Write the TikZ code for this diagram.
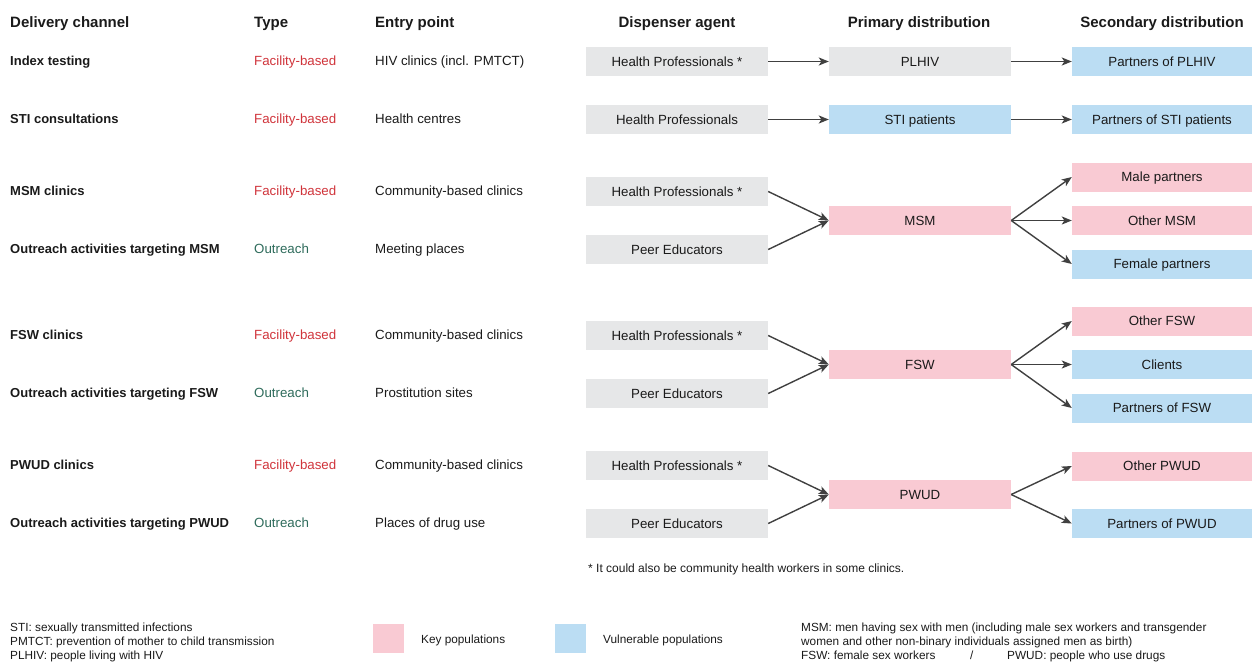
\documentclass[tikz,border=0pt]{standalone}
\usepackage{fontspec}
\setmainfont{Liberation Sans}
\usetikzlibrary{arrows.meta}
\definecolor{boxgray}{HTML}{E6E7E8}
\definecolor{keypink}{HTML}{F9CAD3}
\definecolor{vulblue}{HTML}{BBDDF3}
\definecolor{facred}{HTML}{D0343B}
\definecolor{outgreen}{HTML}{2E6B5B}
\definecolor{arrowgray}{HTML}{404040}
\definecolor{txt}{HTML}{1A1A1A}
\begin{document}
\begin{tikzpicture}[x=1pt,y=-1pt,
  every node/.style={text=txt, inner sep=0pt, text depth=0pt},
  hdr/.style={font=\fontsize{15}{18}\selectfont\bfseries, text height=10.7pt},
  hdrl/.style={hdr, anchor=west},
  chan/.style={font=\fontsize{13}{16}\selectfont\bfseries, anchor=west, text height=9.4pt},
  body/.style={font=\fontsize{13.3}{16}\selectfont, anchor=west, text height=9.5pt},
  fac/.style={body, text=facred},
  outr/.style={body, text=outgreen},
  cell/.style={font=\fontsize{13.3}{16}\selectfont, text height=9.5pt, minimum height=29pt, minimum width=182pt},
  gbox/.style={cell, fill=boxgray},
  pbox/.style={cell, fill=keypink},
  bbox/.style={cell, fill=vulblue},
  sgbox/.style={minimum width=180pt},
  note/.style={font=\fontsize{12}{14}\selectfont, anchor=west, text height=8.6pt},
  leg/.style={font=\fontsize{11.8}{14}\selectfont, anchor=west, text height=8.5pt},
  arr/.style={draw=arrowgray, line width=1.4pt, -{Stealth[length=10pt,width=8pt,inset=2.5pt]}}
]
\useasboundingbox (0,0) rectangle (1252,664);

% headers
\node[hdrl] (h1) at (10,22) {Delivery channel};
\node[hdrl] (h2) at (254,22) {Type};
\node[hdrl] (h3) at (375,22) {Entry point};
\node[hdr] (h4) at (677,22) {Dispenser agent};
\node[hdr] (h5) at (919,22) {Primary distribution};
\node[hdr] (h6) at (1162,22) {Secondary distribution};

% row labels
\node[chan] (c1) at (10,61) {Index testing};
\node[chan] (c2) at (10,119) {STI consultations};
\node[chan] (c3) at (10,191) {MSM clinics};
\node[chan] (c4) at (10,249) {Outreach activities targeting MSM};
\node[chan] (c5) at (10,335) {FSW clinics};
\node[chan] (c6) at (10,393) {Outreach activities targeting FSW};
\node[chan] (c7) at (10,465) {PWUD clinics};
\node[chan] (c8) at (10,523) {Outreach activities targeting PWUD};

% type
\node[fac] (t1) at (254,61) {Facility-based};
\node[fac] (t2) at (254,119) {Facility-based};
\node[fac] (t3) at (254,191) {Facility-based};
\node[outr] (t4) at (254,249) {Outreach};
\node[fac] (t5) at (254,335) {Facility-based};
\node[outr] (t6) at (254,393) {Outreach};
\node[fac] (t7) at (254,465) {Facility-based};
\node[outr] (t8) at (254,523) {Outreach};

% entry points
\node[body] (e1) at (375,61) {HIV clinics (incl. PMTCT)};
\node[body] (e2) at (375,119) {Health centres};
\node[body] (e3) at (375,191) {Community-based clinics};
\node[body] (e4) at (375,249) {Meeting places};
\node[body] (e5) at (375,335) {Community-based clinics};
\node[body] (e6) at (375,393) {Prostitution sites};
\node[body] (e7) at (375,465) {Community-based clinics};
\node[body] (e8) at (375,523) {Places of drug use};

% dispenser agents
\node[gbox] (d1) at (677,61.5) {Health Professionals *};
\node[gbox] (d2) at (677,119.5) {Health Professionals};
\node[gbox] (d3) at (677,191.5) {Health Professionals *};
\node[gbox] (d4) at (677,249.5) {Peer Educators};
\node[gbox] (d5) at (677,335.5) {Health Professionals *};
\node[gbox] (d6) at (677,393.5) {Peer Educators};
\node[gbox] (d7) at (677,465.5) {Health Professionals *};
\node[gbox] (d8) at (677,523.5) {Peer Educators};

% primary
\node[gbox] (p1) at (920,61.5) {PLHIV};
\node[bbox] (p2) at (920,119.5) {STI patients};
\node[pbox] (p3) at (920,220.5) {MSM};
\node[pbox] (p4) at (920,364.5) {FSW};
\node[pbox] (p5) at (920,494.5) {PWUD};

% secondary
\node[bbox,sgbox] (s1) at (1162,61.5) {Partners of PLHIV};
\node[bbox,sgbox] (s2) at (1162,119.5) {Partners of STI patients};
\node[pbox,sgbox] (s3) at (1162,177) {Male partners};
\node[pbox,sgbox] (s4) at (1162,220.5) {Other MSM};
\node[bbox,sgbox] (s5) at (1162,264) {Female partners};
\node[pbox,sgbox] (s6) at (1162,321) {Other FSW};
\node[bbox,sgbox] (s7) at (1162,364.5) {Clients};
\node[bbox,sgbox] (s8) at (1162,408) {Partners of FSW};
\node[pbox,sgbox] (s9) at (1162,466) {Other PWUD};
\node[bbox,sgbox] (s10) at (1162,523.5) {Partners of PWUD};

% connectors
\draw[arr] (d1.east) -- (p1.west);
\draw[arr] (p1.east) -- (s1.west);
\draw[arr] (d2.east) -- (p2.west);
\draw[arr] (p2.east) -- (s2.west);
\draw[arr] (d3.east) -- (p3.west);
\draw[arr] (d4.east) -- (p3.west);
\draw[arr] (p3.east) -- (s3.west);
\draw[arr] (p3.east) -- (s4.west);
\draw[arr] (p3.east) -- (s5.west);
\draw[arr] (d5.east) -- (p4.west);
\draw[arr] (d6.east) -- (p4.west);
\draw[arr] (p4.east) -- (s6.west);
\draw[arr] (p4.east) -- (s7.west);
\draw[arr] (p4.east) -- (s8.west);
\draw[arr] (d7.east) -- (p5.west);
\draw[arr] (d8.east) -- (p5.west);
\draw[arr] (p5.east) -- (s9.west);
\draw[arr] (p5.east) -- (s10.west);

% footnote
\node[note] (fn) at (588,568) {* It could also be community health workers in some clinics.};

% legend
\node[leg] (l1) at (10,627) {STI: sexually transmitted infections};
\node[leg] (l2) at (10,641) {PMTCT: prevention of mother to child transmission};
\node[leg] (l3) at (10,655) {PLHIV: people living with HIV};
\node[fill=keypink, minimum width=31pt, minimum height=29pt] (kp) at (388.5,638.5) {};
\node[leg] (kpt) at (421,639) {Key populations};
\node[fill=vulblue, minimum width=31pt, minimum height=29pt] (vp) at (570.5,638.5) {};
\node[leg] (vpt) at (603,639) {Vulnerable populations};
\node[leg] (r1) at (801,627) {MSM: men having sex with men (including male sex workers and transgender};
\node[leg] (r2) at (801,641) {women and other non-binary individuals assigned men as birth)};
\node[leg] (r3) at (801,655) {FSW: female sex workers};
\node[leg] (r4) at (970,655) {/};
\node[leg] (r5) at (1007,655) {PWUD: people who use drugs};
\end{tikzpicture}
\end{document}
